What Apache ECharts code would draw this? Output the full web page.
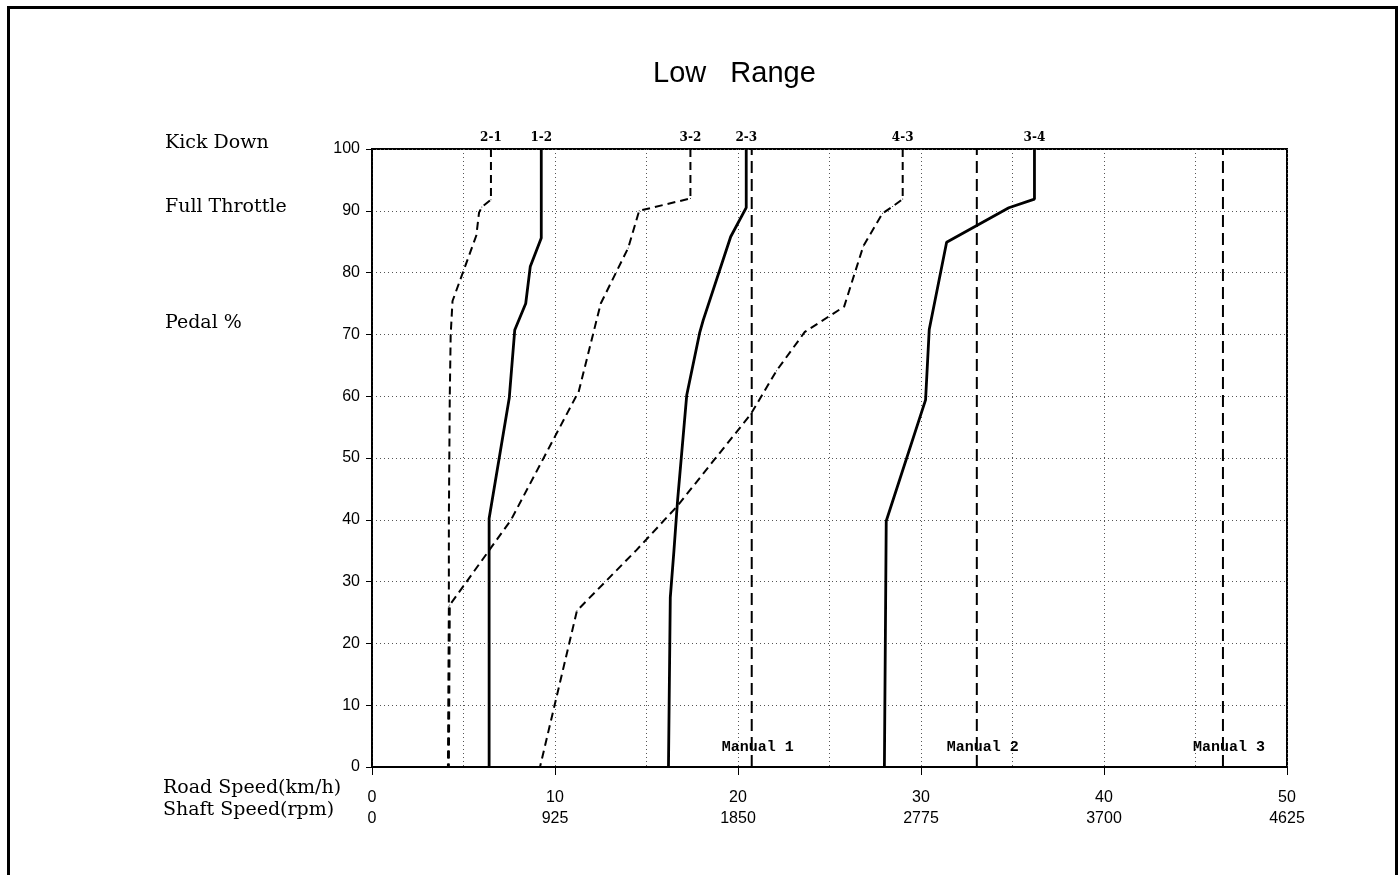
<!DOCTYPE html>
<html>
<head>
<meta charset="utf-8">
<script src="https://cdn.jsdelivr.net/npm/echarts@6/dist/echarts.min.js"></script>
<style>html,body{margin:0;padding:0;background:#fff;}#c{width:1400px;height:875px;}</style>
</head>
<body>
<div id="c"></div>
<script>
// Road speed (km/h) ticks and matching shaft speed (rpm) labels
const speedTicks = [0, 10, 20, 30, 40, 50];
const shaftTicks = [0, 925, 1850, 2775, 3700, 4625];
const pedalTicks = [0, 10, 20, 30, 40, 50, 60, 70, 80, 90, 100];

// Shift curves: [road speed km/h, pedal %], from kick down (100) to 0
const shift21 = [[6.5,100],[6.5,91.8],[6.0,90.6],[5.85,89.7],[5.7,86],[4.4,75.4],[4.3,70],[4.25,60],[4.2,40],[4.2,26],[4.15,0]];
const shift12 = [[9.25,100],[9.25,85.6],[8.65,81],[8.4,75],[7.8,70.7],[7.5,59.7],[6.4,40.2],[6.4,0]];
const shift32 = [[17.4,100],[17.4,92],[14.6,90],[14.0,84],[12.5,75],[11.3,60.8],[7.6,40],[4.25,26.2],[4.2,0]];
const shift23 = [[20.45,100],[20.45,90.5],[19.6,85.8],[18.1,72.3],[17.9,70.2],[17.2,60.2],[16.7,43.2],[16.5,35],[16.3,27.4],[16.2,0]];
const shift43 = [[29.0,100],[29.0,91.9],[28.45,90.7],[27.9,89.6],[26.85,84.3],[25.8,74.5],[23.65,70.4],[22.1,64.1],[20.7,57.1],[16.65,42.1],[14.45,35.1],[11.2,25.3],[9.18,0]];
const shift34 = [[36.2,100],[36.2,91.9],[34.8,90.5],[31.4,84.9],[30.45,70.8],[30.25,59.4],[28.1,39.8],[28.0,0]];

const shiftNames = ['2-1', '1-2', '3-2', '2-3', '4-3', '3-4'];
const shiftData = [shift21, shift12, shift32, shift23, shift43, shift34];
const shiftDashed = [true, false, true, false, true, false];

// Manual gear limits (km/h)
const manualSpeeds = [20.75, 33.05, 46.5];
const manualNames = ['Manual 1', 'Manual 2', 'Manual 3'];

const chart = echarts.init(document.getElementById('c'), null, {renderer: 'canvas'});

const series = [];
shiftData.forEach((d, i) => {
  const data = d.map((p, j) => j === 0 ? {
    value: p,
    label: {
      show: true, position: 'top', distance: 5, formatter: shiftNames[i],
      fontFamily: 'DejaVu Serif', fontWeight: 'bold', fontSize: 12, color: '#000'
    }
  } : p);
  series.push({
    type: 'line', name: shiftNames[i], data: data,
    symbol: 'circle', symbolSize: 1, showSymbol: true, showAllSymbol: true,
    itemStyle: {color: '#000'},
    lineStyle: shiftDashed[i] ? {color: '#000', width: 2, type: [8, 5]} : {color: '#000', width: 2.8, type: 'solid'},
    label: {show: false},
    z: 5
  });
});
manualSpeeds.forEach((v, i) => {
  series.push({
    type: 'line', name: manualNames[i],
    data: [{
      value: [v, 0],
      label: {
        show: true, position: 'top', distance: 12, offset: [6, 0], formatter: manualNames[i],
        fontFamily: 'Liberation Mono', fontWeight: 'bold', fontSize: 15, color: '#000'
      }
    }, [v, 100]],
    symbol: 'circle', symbolSize: 1, showSymbol: true, showAllSymbol: true,
    itemStyle: {color: '#000'},
    lineStyle: {color: '#000', width: 2, type: [12, 6]},
    label: {show: false},
    z: 4
  });
});

const serifText = {fontFamily: 'DejaVu Serif', fontSize: 19, fill: '#000'};

chart.setOption({
  animation: false,
  backgroundColor: '#fff',
  title: {
    text: 'Low   Range', left: 648, top: 54,
    textStyle: {fontFamily: 'Liberation Sans', fontSize: 29, fontWeight: 'normal', color: '#000'}
  },
  grid: {left: 372, right: 113, top: 149, bottom: 108, show: true, borderColor: '#000', borderWidth: 2, backgroundColor: 'transparent'},
  xAxis: {
    type: 'value', min: 0, max: 50, interval: 10,
    axisLine: {show: true, onZero: false, lineStyle: {color: '#000', width: 2}},
    axisTick: {show: true, length: 8, lineStyle: {color: '#000', width: 1}},
    axisLabel: {
      margin: 20, fontFamily: 'Liberation Sans', fontSize: 16, color: '#000', lineHeight: 21,
      formatter: function (v) {
        const i = speedTicks.indexOf(v);
        return i >= 0 ? v + '\n' + shaftTicks[i] : '';
      }
    },
    splitLine: {show: true, lineStyle: {color: '#555', width: 1, type: [1, 3]}},
    minorTick: {show: false, splitNumber: 2},
    minorSplitLine: {show: true, lineStyle: {color: '#555', width: 1, type: [1, 3]}}
  },
  yAxis: {
    type: 'value', min: 0, max: 100, interval: 10,
    axisLine: {show: true, onZero: false, lineStyle: {color: '#000', width: 1.5}},
    axisTick: {show: true, length: 6, lineStyle: {color: '#000', width: 1}},
    axisLabel: {
      margin: 12, fontFamily: 'Liberation Sans', fontSize: 16, color: '#000',
      formatter: function (v) { return pedalTicks.indexOf(v) >= 0 ? String(v) : ''; }
    },
    splitLine: {show: true, lineStyle: {color: '#555', width: 1, type: [1, 3]}}
  },
  series: series,
  graphic: [
    {type: 'rect', left: 6, top: 5, shape: {width: 1388, height: 900}, style: {fill: 'none', stroke: '#000', lineWidth: 3}, silent: true, z: 100},
    {type: 'text', left: 165, top: 134, style: Object.assign({text: 'Kick Down'}, serifText)},
    {type: 'text', left: 165, top: 198, style: Object.assign({text: 'Full Throttle'}, serifText)},
    {type: 'text', left: 165, top: 314, style: Object.assign({text: 'Pedal %'}, serifText)},
    {type: 'text', left: 163, top: 779, style: Object.assign({text: 'Road Speed(km/h)'}, serifText)},
    {type: 'text', left: 163, top: 801, style: Object.assign({text: 'Shaft Speed(rpm)'}, serifText)}
  ]
});
</script>
</body>
</html>
